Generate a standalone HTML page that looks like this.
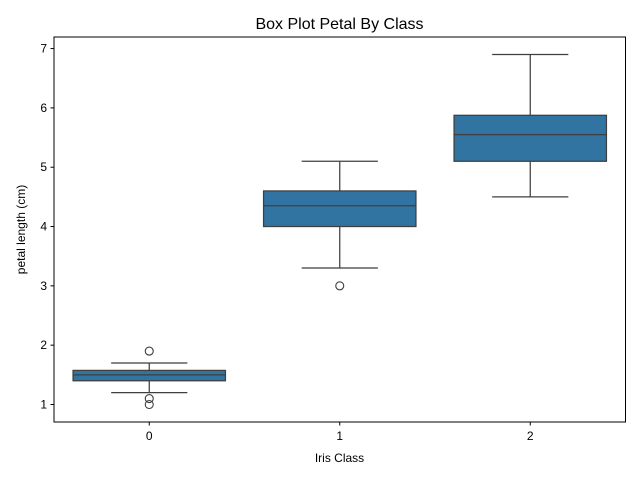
<!DOCTYPE html>
<html><head><meta charset="utf-8"><style>
body{margin:0;background:#fff}
svg text{font-family:"Liberation Sans","DejaVu Sans",sans-serif;fill:#000}
</style></head><body>
<svg id="c" width="640" height="480">
<text x="339.5" y="29" font-size="16" text-anchor="middle">Box Plot Petal By Class</text>
<text x="339.5" y="462" font-size="12" text-anchor="middle">Iris Class</text>
<text transform="translate(25,229.5) rotate(-90)" font-size="12" text-anchor="middle">petal length (cm)</text>
<g id="plot"></g>
<rect x="54" y="37" width="571.5" height="385" fill="none" stroke="#000" stroke-width="1"/>
</svg>
<script>
const categories=["0","1","2"];
const q1=[1.4,4.0,5.1];
const medians=[1.5,4.35,5.55];
const q3=[1.575,4.6,5.875];
const whiskLow=[1.2,3.3,4.5];
const whiskHigh=[1.7,5.1,6.9];
const outliers=[[1.0,1.1,1.9],[3.0],[]];
const yTicks=[1,2,3,4,5,6,7];
const L=54,R=625.5,T=37,B=422,ymin=0.705,ymax=7.195;
const y=v=>B-(v-ymin)/(ymax-ymin)*(B-T);
const bw=(R-L)/categories.length;
const x=i=>L+bw*(i+0.5);
const ns="http://www.w3.org/2000/svg";
const g=document.getElementById('plot');
function mk(t,a){const e=document.createElementNS(ns,t);for(const k in a)e.setAttribute(k,a[k]);g.appendChild(e);return e;}
const lc="#3f3f3f";
yTicks.forEach(v=>{
 const t=mk('line',{x1:L-3.5,x2:L,y1:y(v),y2:y(v),stroke:'#000'});
 
 
 const s=mk('text',{x:L-7,y:y(v)+4,'font-size':12,'text-anchor':'end'});s.textContent=v;
 
 
});
categories.forEach((c,i)=>{
 const cx=x(i),w=bw*0.8,cw=w/2;
 const t=mk('line',{x1:cx,x2:cx,y1:B,y2:B+3.5,stroke:'#000'});
 
 
 const s=mk('text',{x:cx,y:B+18,'font-size':12,'text-anchor':'middle'});s.textContent=c;
 
 
 const w1=mk('line',{x1:cx,x2:cx,y1:y(q1[i]),y2:y(whiskLow[i]),stroke:lc,'stroke-width':1.25});
 
 
 const w2=mk('line',{x1:cx,x2:cx,y1:y(q3[i]),y2:y(whiskHigh[i]),stroke:lc,'stroke-width':1.25});
 
 
 [whiskLow[i],whiskHigh[i]].forEach(v=>{
  const cp=mk('line',{x1:cx-cw/2,x2:cx+cw/2,y1:y(v),y2:y(v),stroke:lc,'stroke-width':1.25});
  
  
 });
 const b=mk('rect',{x:cx-w/2,y:y(q3[i]),width:w,height:y(q1[i])-y(q3[i]),fill:'#3274a1',stroke:lc,'stroke-width':1.25});
 
 
 const m=mk('line',{x1:cx-w/2,x2:cx+w/2,y1:y(medians[i]),y2:y(medians[i]),stroke:lc,'stroke-width':1.25});
 
 
 outliers[i].forEach(v=>{
  const o=mk('circle',{cx:cx,cy:y(v),r:4,fill:'none',stroke:lc,'stroke-width':1.1});
  
  
 });
});
</script>
</body></html>
